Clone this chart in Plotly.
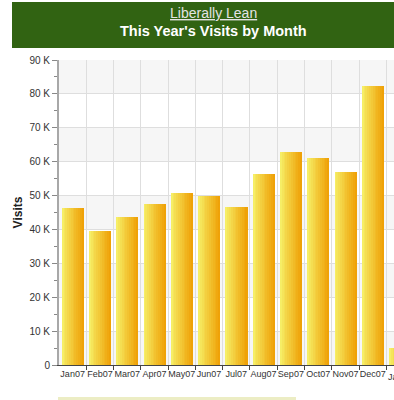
import plotly.graph_objects as go

months = ["Jan07", "Feb07", "Mar07", "Apr07", "May07", "Jun07", "Jul07",
          "Aug07", "Sep07", "Oct07", "Nov07", "Dec07", "Jan08"]
visits = [46200, 39400, 43600, 47600, 50800, 49800, 46600,
          56400, 62800, 61200, 56900, 82300, 5000]
y_ticks = [0, 10000, 20000, 30000, 40000, 50000, 60000, 70000, 80000, 90000]
y_labels = ["0", "10 K", "20 K", "30 K", "40 K", "50 K", "60 K", "70 K", "80 K", "90 K"]

title_site = "Liberally Lean"
title_main = "This Year's Visits by Month"
y_title = "Visits"

idx = list(range(len(months)))
xmin, xmax = -0.5, 11.78

W, H = 394, 400
ML, MT, MB = 59, 60, 35
PW, PH = W - ML, H - MT - MB

def lerp(c1, c2, t):
    return "#%02x%02x%02x" % tuple(round(a + (b - a) * t) for a, b in zip(c1, c2))

left_c = (0xf6, 0xee, 0x66)
right_c = (0xef, 0xa2, 0x08)

fig = go.Figure()
N = 12
bw = 0.8
w = bw / N
for i in range(N):
    t = i / (N - 1)
    fig.add_trace(go.Bar(
        x=idx, y=visits, width=w * 1.15, offset=-bw / 2 + i * w,
        marker=dict(color=lerp(left_c, right_c, t ** 0.9), line=dict(width=0)),
        showlegend=False, hoverinfo="skip"))

def px(page_x):
    return (page_x - ML) / PW

def py(page_y):
    return 1 + (MT - page_y) / PH

shapes = []
for k in range(len(y_ticks) - 1):
    if k % 2 == 0:
        shapes.append(dict(type="rect", xref="paper", yref="y", x0=0, x1=1,
                           y0=y_ticks[k], y1=y_ticks[k + 1],
                           fillcolor="#f6f6f6", line=dict(width=0), layer="below"))
# green header
shapes.append(dict(type="rect", xref="paper", yref="paper",
                   x0=px(12), x1=px(400), y0=py(48), y1=py(2),
                   fillcolor="#316312", line=dict(width=0), layer="below"))
# pale strip at bottom
shapes.append(dict(type="rect", xref="paper", yref="paper",
                   x0=px(58), x1=px(296), y0=py(401), y1=py(397),
                   fillcolor="#ecedc4", line=dict(width=0), layer="below"))

annotations = [
    dict(text="<u>" + title_site + "</u>", xref="paper", yref="paper",
         x=px(213), y=py(13), showarrow=False,
         font=dict(family="Liberation Sans, Arial", size=14, color="#e4e4e4"),
         xanchor="center", yanchor="middle"),
    dict(text="<b>" + title_main + "</b>", xref="paper", yref="paper",
         x=px(213), y=py(31), showarrow=False,
         font=dict(family="Liberation Sans, Arial", size=14.5, color="#ffffff"),
         xanchor="center", yanchor="middle"),
    dict(text=months[-1], xref="paper", yref="paper",
         x=(idx[-1] - xmin) / (xmax - xmin), y=py(377), showarrow=False,
         font=dict(family="Liberation Sans, Arial", size=9, color="#333333"),
         xanchor="center", yanchor="middle"),
]

fig.update_layout(
    width=W, height=H,
    margin=dict(l=ML, r=0, t=MT, b=MB, pad=0),
    paper_bgcolor="white", plot_bgcolor="white",
    barmode="overlay", bargap=0,
    shapes=shapes, annotations=annotations,
    font=dict(family="Liberation Sans, Arial", size=10, color="#333333"),
    xaxis=dict(
        range=[xmin, xmax], tickmode="array", tickvals=idx, ticktext=months,
        tickangle=0, showgrid=False, ticks="", zeroline=False,
        showline=True, linecolor="#444444", linewidth=1,
        tickfont=dict(size=9, color="#333333"),
        minor=dict(tickmode="array", tickvals=[i + 0.5 for i in idx[:-1]],
                   showgrid=True, gridcolor="#dedede", gridwidth=1,
                   ticks="outside", ticklen=4, tickcolor="#444444"),
    ),
    yaxis=dict(
        range=[0, 90000], tickmode="array", tickvals=y_ticks, ticktext=y_labels,
        showgrid=True, gridcolor="#dedede", gridwidth=1, zeroline=False,
        showline=True, linecolor="#a8a8a8", linewidth=2,
        ticks="outside", ticklen=5, tickcolor="#888888",
        tickfont=dict(size=10, color="#333333"),
        title=dict(text="<b>" + y_title + "</b>", standoff=4,
                   font=dict(size=12, color="#222222")),
        minor=dict(tickmode="array", tickvals=[v + 5000 for v in y_ticks[:-1]],
                   ticks="outside", ticklen=3, tickcolor="#888888", showgrid=False),
    ),
)

fig.write_html(
    "out.html",
    config={"displayModeBar": False},
    post_script="document.body.style.margin='0px';"
                "document.documentElement.style.overflow='hidden';",
)
